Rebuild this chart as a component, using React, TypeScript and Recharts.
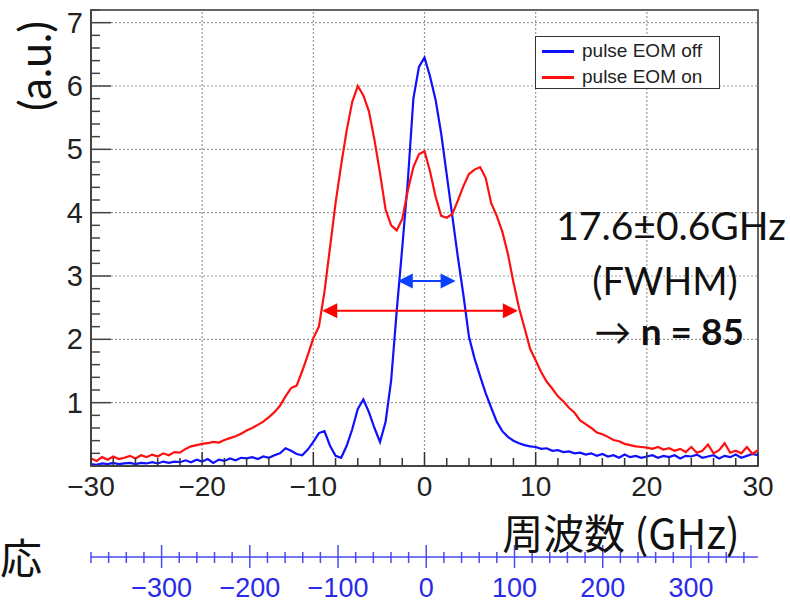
import React from "react";
import {
  ComposedChart,
  Line,
  XAxis,
  YAxis,
  ReferenceLine,
  ReferenceArea,
  Legend,
} from "recharts";

// frequency grid (GHz), every 0.5
const freqGHz = [
  -30, -29.5, -29, -28.5, -28, -27.5, -27, -26.5, -26, -25.5, -25, -24.5, -24, -23.5, -23, -22.5, -22, -21.5, -21, -20.5,
  -20, -19.5, -19, -18.5, -18, -17.5, -17, -16.5, -16, -15.5, -15, -14.5, -14, -13.5, -13, -12.5, -12, -11.5, -11, -10.5,
  -10, -9.5, -9, -8.5, -8, -7.5, -7, -6.5, -6, -5.5, -5, -4.5, -4, -3.5, -3, -2.5, -2, -1.5, -1, -0.5,
  0, 0.5, 1, 1.5, 2, 2.5, 3, 3.5, 4, 4.5, 5, 5.5, 6, 6.5, 7, 7.5, 8, 8.5, 9, 9.5,
  10, 10.5, 11, 11.5, 12, 12.5, 13, 13.5, 14, 14.5, 15, 15.5, 16, 16.5, 17, 17.5, 18, 18.5, 19, 19.5,
  20, 20.5, 21, 21.5, 22, 22.5, 23, 23.5, 24, 24.5, 25, 25.5, 26, 26.5, 27, 27.5, 28, 28.5, 29, 29.5, 30,
];

// pulse EOM off (blue)
const eomOff = [
  0.03, 0.02, 0.04, 0.03, 0.05, 0.03, 0.04, 0.05, 0.03, 0.05, 0.04, 0.06, 0.04, 0.07, 0.05, 0.07, 0.06, 0.09, 0.06, 0.1,
  0.07, 0.11, 0.05, 0.1, 0.08, 0.12, 0.09, 0.13, 0.12, 0.14, 0.11, 0.15, 0.13, 0.17, 0.2, 0.28, 0.24, 0.19, 0.17, 0.26,
  0.38, 0.52, 0.55, 0.32, 0.16, 0.13, 0.32, 0.58, 0.9, 1.05, 0.85, 0.6, 0.38, 0.7, 1.35, 2.45, 3.45, 4.5, 5.8, 6.3,
  6.45, 6.15, 5.78, 5.25, 4.6, 3.95, 3.3, 2.7, 2.04, 1.7, 1.42, 1.15, 0.92, 0.7, 0.55, 0.46, 0.4, 0.36, 0.33, 0.31,
  0.3, 0.27, 0.28, 0.24, 0.25, 0.22, 0.23, 0.2, 0.21, 0.18, 0.2, 0.16, 0.19, 0.15, 0.17, 0.13, 0.18, 0.14, 0.16, 0.13,
  0.15, 0.17, 0.13, 0.16, 0.14, 0.17, 0.12, 0.16, 0.15, 0.18, 0.13, 0.15, 0.17, 0.12, 0.16, 0.14, 0.18, 0.13, 0.16, 0.19, 0.17,
];

// pulse EOM on (red)
const eomOn = [
  0.12, 0.08, 0.14, 0.1, 0.15, 0.11, 0.13, 0.16, 0.12, 0.17, 0.14, 0.18, 0.15, 0.2, 0.17, 0.22, 0.21, 0.27, 0.31, 0.33,
  0.35, 0.36, 0.38, 0.37, 0.41, 0.44, 0.47, 0.51, 0.56, 0.6, 0.65, 0.7, 0.77, 0.85, 0.95, 1.1, 1.23, 1.27, 1.5, 1.75,
  2.02, 2.2, 2.75, 3.45, 4.15, 4.75, 5.3, 5.75, 6.0, 5.85, 5.6, 5.15, 4.62, 4.05, 3.8, 3.72, 3.9, 4.35, 4.72, 4.92,
  4.97, 4.65, 4.25, 3.95, 3.92, 3.98, 4.19, 4.42, 4.61, 4.68, 4.72, 4.55, 4.15, 3.95, 3.7, 3.35, 2.9, 2.5, 2.18, 1.85,
  1.67, 1.48, 1.33, 1.22, 1.1, 1.02, 0.92, 0.84, 0.72, 0.66, 0.6, 0.53, 0.5, 0.46, 0.41, 0.39, 0.35, 0.33, 0.31, 0.3,
  0.29, 0.27, 0.3, 0.26, 0.28, 0.24, 0.27, 0.22, 0.3, 0.21, 0.24, 0.34, 0.2, 0.25, 0.36, 0.21, 0.24, 0.2, 0.3, 0.19, 0.25,
];

// secondary (MHz-like) scale shown under the plot
const mhzRange = [-380, 376];

const freqTicks: number[] = [];
for (let v = -30; v <= 30; v += 2) freqTicks.push(v);
const yTicks: number[] = [];
for (let i = 0; i <= 36; i++) yTicks.push(Math.round(i * 2) / 10);
const mhzTicks: number[] = [];
for (let v = -380; v <= 360; v += 20) mhzTicks.push(v);

const gridX = [-20, -10, 0, 10, 20];
const gridY = [1, 2, 3, 4, 5, 6, 7];

// FWHM arrows
const redArrow = { x1: -9.2, x2: 8.4, y: 2.45 };
const blueArrow = { x1: -2.4, x2: 2.8, y: 2.92 };

const data = freqGHz.map((f, i) => ({ f, off: eomOff[i], on: eomOn[i] }));
const mhzData = mhzRange.map((m) => ({ m }));

const axisFont = "'Liberation Sans', Arial, sans-serif";
const textFont = "Lato, 'Noto Sans', sans-serif";
const minus = (v: number) => (v < 0 ? "\u2212" + Math.abs(v) : String(v));

function FreqTick(props: any) {
  const { x, y, payload } = props;
  const v = payload.value;
  const major = v % 10 === 0;
  return (
    <g>
      <line x1={x} y1={y} x2={x} y2={y - (major ? 14 : 8)} stroke="#333" strokeWidth={1.5} />
      {major && (
        <text x={x} y={y + 20} textAnchor="middle" dominantBaseline="central" fontSize={28} fontFamily={axisFont} fill="#222">
          {minus(v)}
        </text>
      )}
    </g>
  );
}

function YTick(props: any) {
  const { x, y, payload } = props;
  const v = payload.value;
  const major = Math.abs(v - Math.round(v)) < 1e-6;
  return (
    <g>
      <line x1={x} y1={y} x2={x + (major ? 20 : 9)} y2={y} stroke="#444" strokeWidth={1.5} />
      {major && v >= 1 && (
        <text x={x - 8} y={y} textAnchor="end" dominantBaseline="central" fontSize={29} fontFamily={axisFont} fill="#222">
          {v}
        </text>
      )}
    </g>
  );
}

function MhzTick(props: any) {
  const { x, y, payload } = props;
  const v = payload.value;
  const major = v % 100 === 0;
  return (
    <g>
      <line x1={x} y1={y - (major ? 12 : 5)} x2={x} y2={y + (major ? 11 : 6)} stroke="#4a4af0" strokeWidth={1.5} />
      {major && (
        <text x={x} y={y + 31} textAnchor="middle" dominantBaseline="central" fontSize={27} fontFamily={axisFont} fill="#2a2ae8">
          {minus(v)}
        </text>
      )}
    </g>
  );
}

function arrowShape(color: string) {
  return (p: any) => {
    const { x1, y1, x2, y2 } = p;
    const len = 15;
    const hw = 7.5;
    return (
      <g>
        <line x1={x1 + len - 2} y1={y1} x2={x2 - len + 2} y2={y2} stroke={color} strokeWidth={2} />
        <polygon points={`${x1},${y1} ${x1 + len},${y1 - hw} ${x1 + len},${y1 + hw}`} fill={color} />
        <polygon points={`${x2},${y2} ${x2 - len},${y2 - hw} ${x2 - len},${y2 + hw}`} fill={color} />
      </g>
    );
  };
}

function LegendBox() {
  const row = (color: string, label: string) => (
    <div style={{ display: "flex", alignItems: "center", height: 26 }}>
      <div style={{ width: 32, height: 3, background: color, marginLeft: 6, marginRight: 8 }} />
      <span style={{ fontFamily: axisFont, fontSize: 19, color: "#222" }}>{label}</span>
    </div>
  );
  return (
    <div
      style={{
        width: 185,
        height: 53,
        boxSizing: "border-box",
        border: "1.5px solid #333",
        background: "#fff",
        paddingTop: 1,
      }}
    >
      {row("#1010ff", "pulse EOM off")}
      {row("#ff1010", "pulse EOM on")}
    </div>
  );
}

const overlay = (left: number, top: number, style: React.CSSProperties = {}) => ({
  position: "absolute" as const,
  left,
  top,
  transform: "translate(-50%, -50%)",
  whiteSpace: "nowrap" as const,
  color: "#111",
  fontFamily: textFont,
  lineHeight: 1,
  ...style,
});

export default function App() {
  return (
    <div style={{ position: "absolute", left: 0, top: 0, width: 790, height: 603, background: "#fff", overflow: "hidden" }}>
      <ComposedChart width={790} height={603} data={data} margin={{ top: 10, right: 32, bottom: 46, left: 51 }}>
        <XAxis
          xAxisId="f"
          dataKey="f"
          type="number"
          domain={[-30, 30]}
          ticks={freqTicks}
          allowDataOverflow
          height={91}
          tickLine={false}
          tickSize={0}
          tickMargin={0}
          tick={<FreqTick />}
          interval={0}
          axisLine={{ stroke: "#444", strokeWidth: 2 }}
        />
        <YAxis
          type="number"
          domain={[0, 7.2]}
          ticks={yTicks}
          allowDataOverflow
          width={40}
          tickLine={false}
          tickSize={0}
          tickMargin={0}
          tick={<YTick />}
          interval={0}
          axisLine={{ stroke: "#444", strokeWidth: 2 }}
        />
        {gridX.map((g) => (
          <ReferenceLine key={"gx" + g} xAxisId="f" x={g} stroke="#9a9a9a" strokeDasharray="2 2" strokeWidth={1.2} />
        ))}
        {gridY.map((g) => (
          <ReferenceLine key={"gy" + g} xAxisId="f" y={g} stroke="#9a9a9a" strokeDasharray="2 2" strokeWidth={1.2} />
        ))}
        <ReferenceArea xAxisId="f" x1={-30} x2={30} y1={0} y2={7.2} fill="none" stroke="#666" strokeWidth={2} />
        <Legend layout="vertical" align="center" verticalAlign="middle" content={<LegendBox />} wrapperStyle={{ position: "absolute", left: 535, top: 36, width: 185 }} />
        <Line xAxisId="f" name="pulse EOM off" dataKey="off" type="linear" stroke="#1010ff" strokeWidth={2.2} dot={false} isAnimationActive={false} />
        <Line xAxisId="f" name="pulse EOM on" dataKey="on" type="linear" stroke="#ff1010" strokeWidth={2.2} dot={false} isAnimationActive={false} />
        <ReferenceLine
          xAxisId="f"
          segment={[{ x: redArrow.x1, y: redArrow.y }, { x: redArrow.x2, y: redArrow.y }]}
          shape={arrowShape("#ff0000")}
        />
        <ReferenceLine
          xAxisId="f"
          segment={[{ x: blueArrow.x1, y: blueArrow.y }, { x: blueArrow.x2, y: blueArrow.y }]}
          shape={arrowShape("#0a40ff")}
        />
      </ComposedChart>
      <div style={{ position: "absolute", left: 0, top: 527 }}>
        <ComposedChart width={790} height={76} data={mhzData} margin={{ top: 0, right: 32, bottom: 6, left: 91 }}>
          <XAxis
            dataKey="m"
            type="number"
            domain={mhzRange}
            ticks={mhzTicks}
            allowDataOverflow
            height={40}
            tickLine={false}
            tickSize={0}
            tickMargin={0}
            tick={<MhzTick />}
            interval={0}
            axisLine={{ stroke: "#4a4af0", strokeWidth: 1.5 }}
          />
          <YAxis hide domain={[0, 1]} />
        </ComposedChart>
      </div>
      <div style={overlay(34, 66, { fontSize: 44, transform: "translate(-50%, -50%) rotate(-90deg)" })}>(a.u.)</div>
      <div style={overlay(671, 225, { fontSize: 39 })}>17.6±0.6GHz</div>
      <div style={overlay(665, 280, { fontSize: 38 })}>(FWHM)</div>
      <div style={overlay(669, 330, { fontSize: 37 })}>
        → <b>n = 85</b>
      </div>
      <div style={overlay(621, 531, { fontSize: 41, fontFamily: "'Noto Sans CJK JP', sans-serif" })}>周波数 (GHz)</div>
      <div style={overlay(21, 556, { fontSize: 42, fontFamily: "'Noto Sans CJK JP', sans-serif" })}>応</div>
    </div>
  );
}
